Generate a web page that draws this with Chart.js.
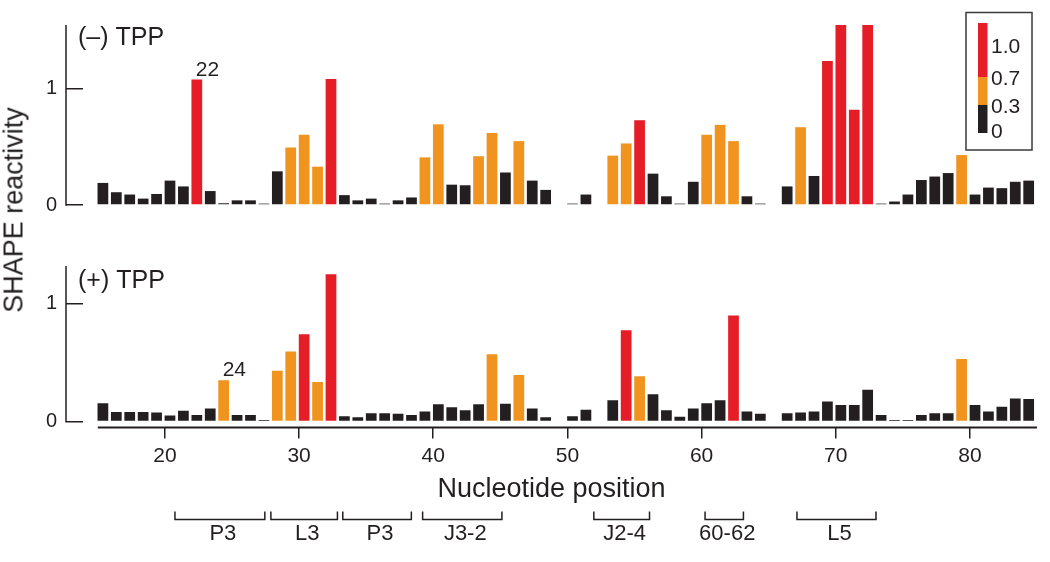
<!DOCTYPE html>
<html>
<head>
<meta charset="utf-8">
<title>SHAPE reactivity</title>
<script src="https://cdn.jsdelivr.net/npm/chart.js@4.4.1/dist/chart.umd.min.js"></script>
<style>
  html, body { margin: 0; padding: 0; background: #fff; }
  #wrap { position: relative; width: 1050px; height: 562px; overflow: hidden; }
  #wrap canvas { position: absolute; left: 0; top: 0; }
  #y-title {
    position: absolute; left: 14px; top: 210px;
    transform: translate(-50%, -50%) rotate(-90deg);
    font: 27px 'Liberation Sans', Arial, sans-serif; color: #231f20; white-space: nowrap;
  }
</style>
</head>
<body>
<div id="wrap">
  <canvas id="minus-chart" width="1050" height="562"></canvas>
  <canvas id="plus-chart" width="1050" height="562"></canvas>
  <div id="y-title">SHAPE reactivity</div>
</div>
<script>
// Vị trí nucleotide (trục x)
const positions = [15, 16, 17, 18, 19, 20, 21, 22, 23, 24, 25, 26, 27, 28, 29, 30, 31, 32, 33, 34,
                   35, 36, 37, 38, 39, 40, 41, 42, 43, 44, 45, 46, 47, 48, 49, 50, 51, 52, 53, 54,
                   55, 56, 57, 58, 59, 60, 61, 62, 63, 64, 65, 66, 67, 68, 69, 70, 71, 72, 73, 74,
                   75, 76, 77, 78, 79, 80, 81, 82, 83, 84];

// SHAPE reactivity, (–) TPP
const minusTPP = [0.19, 0.11, 0.09, 0.055, 0.095, 0.21, 0.16, 1.08, 0.12, 0.015, 0.04, 0.04, 0.012, 0.29, 0.495, 0.605, 0.33, 1.085, 0.085, 0.04,
                  0.055, 0.012, 0.04, 0.065, 0.41, 0.695, 0.175, 0.17, 0.42, 0.62, 0.28, 0.55, 0.21, 0.13, null, 0.012, 0.09, null, 0.425, 0.53,
                  0.73, 0.27, 0.075, 0.012, 0.2, 0.605, 0.69, 0.55, 0.075, 0.012, null, 0.16, 0.67, 0.25, 1.24, 1.55, 0.82, 1.55, 0.012, 0.03,
                  0.09, 0.215, 0.245, 0.275, 0.43, 0.09, 0.15, 0.145, 0.2, 0.21];

// SHAPE reactivity, (+) TPP
const plusTPP = [0.155, 0.08, 0.08, 0.08, 0.075, 0.05, 0.09, 0.055, 0.11, 0.35, 0.055, 0.055, 0.012, 0.43, 0.595, 0.74, 0.335, 1.25, 0.045, 0.035,
                 0.07, 0.07, 0.065, 0.055, 0.085, 0.145, 0.12, 0.095, 0.145, 0.57, 0.15, 0.395, 0.11, 0.035, null, 0.045, 0.1, null, 0.18, 0.775,
                 0.385, 0.23, 0.095, 0.04, 0.11, 0.155, 0.18, 0.9, 0.085, 0.065, null, 0.07, 0.075, 0.085, 0.17, 0.14, 0.14, 0.27, 0.055, 0.012,
                 0.012, 0.055, 0.07, 0.07, 0.53, 0.14, 0.085, 0.125, 0.195, 0.19];

const xTicks = [20, 30, 40, 50, 60, 70, 80];
const yTicks = [0, 1];

// Thang màu: 0–0.3 đen, 0.3–0.7 cam, >0.7 đỏ
const colorThresholds = [0.3, 0.7];
const barColors = ['#231f20', '#f1931f', '#e41d26'];
const legendLabels = ['1.0', '0.7', '0.3', '0'];

// Các vùng cấu trúc bên dưới trục x
const regionLabels = ['P3', 'L3', 'P3', 'J3-2', 'J2-4', '60-62', 'L5'];
const regionStart = [20.75, 27.9, 33.26, 39.21, 51.97, 60.26, 67.11];
const regionEnd = [27.45, 32.86, 38.37, 45.12, 56.12, 63.12, 73.0];

const INK = '#231f20';
const FONT = "'Liberation Sans', Arial, sans-serif";
const X_MIN = 12.63, X_MAX = 85, BAR_SHIFT = 0.38;

Chart.defaults.font.family = FONT;
Chart.defaults.color = INK;

function colorFor(v) {
    if (v == null) return barColors[0];
    if (v >= colorThresholds[1]) return barColors[2];
    if (v >= colorThresholds[0]) return barColors[1];
    return barColors[0];
}

/**
 * Vẽ đường trục y (từ 0 đến max) và trục x (từ 15 đến 85) bằng scale của chart.
 */
const axisLinePlugin = {
    id: 'axisLines',
    afterDraw(chart, args, opts) {
        const { ctx, chartArea } = chart;
        const y = chart.scales.y;
        ctx.save();
        ctx.strokeStyle = INK;
        ctx.lineWidth = 1.5;
        ctx.beginPath();
        ctx.moveTo(chartArea.left, y.getPixelForValue(0) + 0.75);
        ctx.lineTo(chartArea.left, y.getPixelForValue(y.max));
        ctx.stroke();
        if (opts.xFrom != null) {
            const x = chart.scales.x;
            ctx.lineWidth = 2;
            ctx.beginPath();
            ctx.moveTo(x.getPixelForValue(opts.xFrom), chartArea.bottom);
            ctx.lineTo(x.getPixelForValue(opts.xTo), chartArea.bottom);
            ctx.stroke();
        }
        ctx.restore();
    }
};

// Tiêu đề panel + nhãn số trên cột
const panelTextPlugin = {
    id: 'panelText',
    afterDatasetsDraw(chart, args, opts) {
        const { ctx, chartArea } = chart;
        ctx.save();
        ctx.fillStyle = INK;
        ctx.font = `25px ${FONT}`;
        ctx.textAlign = 'left';
        ctx.textBaseline = 'middle';
        ctx.fillText(opts.title, chartArea.left + 12, chartArea.top + opts.titleDy);

        const bar = chart.getDatasetMeta(0).data[positions.indexOf(opts.callout)];
        ctx.font = `21px ${FONT}`;
        ctx.textBaseline = 'alphabetic';
        ctx.fillText(String(opts.callout), bar.x - 1, bar.y - 4);
        ctx.restore();
    }
};

// Hộp chú thích thang màu (góc phải trên)
const colorKeyPlugin = {
    id: 'colorKey',
    afterDraw(chart) {
        const ctx = chart.ctx;
        ctx.save();
        ctx.strokeStyle = '#3a3a3a';
        ctx.lineWidth = 1.5;
        ctx.strokeRect(966, 12.5, 66, 137.5);
        const bands = [23, 77, 105, 133];
        const bandColors = [barColors[2], barColors[1], barColors[0]];
        bandColors.forEach((c, i) => {
            ctx.fillStyle = c;
            ctx.fillRect(978, bands[i], 9.5, bands[i + 1] - bands[i]);
        });
        const labelY = [47, 79, 107.5, 132.5];
        ctx.fillStyle = INK;
        ctx.font = `21px ${FONT}`;
        ctx.textAlign = 'left';
        ctx.textBaseline = 'middle';
        legendLabels.forEach((t, i) => ctx.fillText(t, 991, labelY[i]));
        ctx.restore();
    }
};

// Ngoặc vùng cấu trúc dưới trục x
const regionPlugin = {
    id: 'regions',
    afterDraw(chart) {
        const { ctx, chartArea } = chart;
        const x = chart.scales.x;
        const yTop = chartArea.bottom + 84, yLine = chartArea.bottom + 92;
        ctx.save();
        ctx.strokeStyle = INK;
        ctx.lineWidth = 1.5;
        ctx.fillStyle = INK;
        ctx.font = `22px ${FONT}`;
        ctx.textAlign = 'center';
        ctx.textBaseline = 'middle';
        regionLabels.forEach((label, i) => {
            const x1 = x.getPixelForValue(regionStart[i]);
            const x2 = x.getPixelForValue(regionEnd[i]);
            ctx.beginPath();
            ctx.moveTo(x1, yTop);
            ctx.lineTo(x1, yLine);
            ctx.lineTo(x2, yLine);
            ctx.lineTo(x2, yTop);
            ctx.stroke();
            ctx.fillText(label, (x1 + x2) / 2 + 3, chartArea.bottom + 107);
        });
        ctx.restore();
    }
};

function yScale(min, max) {
    return {
        type: 'linear', min, max,
        afterBuildTicks: s => { s.ticks = yTicks.map(v => ({ value: v })); },
        // cố định bề rộng trục và bỏ phần đệm nhãn để vùng vẽ khớp ảnh gốc
        afterFit: s => { s.width = 66; s.paddingTop = 0; s.paddingBottom = 0; },
        border: { display: false },
        grid: { drawOnChartArea: false, tickLength: -17, color: INK, lineWidth: 1.5 },
        ticks: { padding: 26, font: { size: 20 }, color: INK }
    };
}

function barDataset(values) {
    return {
        data: positions.map((p, i) => ({ x: p, y: values[i] })),
        xAxisID: 'xb',
        backgroundColor: ctx => colorFor(ctx.raw ? ctx.raw.y : null),
        borderWidth: 0,
        barPercentage: 0.8,
        categoryPercentage: 1.0
    };
}

const hiddenBarAxis = {
    type: 'linear', display: false, offset: false,
    min: X_MIN - BAR_SHIFT, max: X_MAX - BAR_SHIFT
};

// Panel trên: (–) TPP
new Chart(document.getElementById('minus-chart'), {
    type: 'bar',
    data: { datasets: [barDataset(minusTPP)] },
    options: {
        responsive: false, animation: false, devicePixelRatio: 1,
        layout: { padding: { left: 0, right: 13, top: 25, bottom: 357 } },
        plugins: {
            legend: { display: false }, tooltip: { enabled: false },
            axisLines: {},
            panelText: { title: '(–) TPP', titleDy: 13, callout: 22 }
        },
        scales: { xb: hiddenBarAxis, y: yScale(0, 1.55) }
    },
    plugins: [axisLinePlugin, panelTextPlugin, colorKeyPlugin]
});

// Panel dưới: (+) TPP, có trục x
new Chart(document.getElementById('plus-chart'), {
    type: 'bar',
    data: { datasets: [barDataset(plusTPP)] },
    options: {
        responsive: false, animation: false, devicePixelRatio: 1,
        layout: { padding: { left: 0, right: 13, top: 266, bottom: 56 } },
        plugins: {
            legend: { display: false }, tooltip: { enabled: false },
            axisLines: { xFrom: 15, xTo: 85 },
            panelText: { title: '(+) TPP', titleDy: 15, callout: 24 }
        },
        scales: {
            x: {
                type: 'linear', position: 'bottom', min: X_MIN, max: X_MAX, offset: false,
                afterBuildTicks: s => { s.ticks = xTicks.map(v => ({ value: v })); },
                border: { display: false },
                grid: { drawOnChartArea: false, offset: false, tickLength: 11, color: INK, lineWidth: 1.5 },
                ticks: { padding: 5, font: { size: 21 }, color: INK, maxRotation: 0, autoSkip: false },
                title: { display: true, text: 'Nucleotide position', font: { size: 27 }, color: INK, padding: { top: 0, bottom: 0 } }
            },
            xb: hiddenBarAxis,
            y: yScale(-0.0507, 1.321)
        }
    },
    plugins: [axisLinePlugin, panelTextPlugin, regionPlugin]
});
</script>
</body>
</html>
